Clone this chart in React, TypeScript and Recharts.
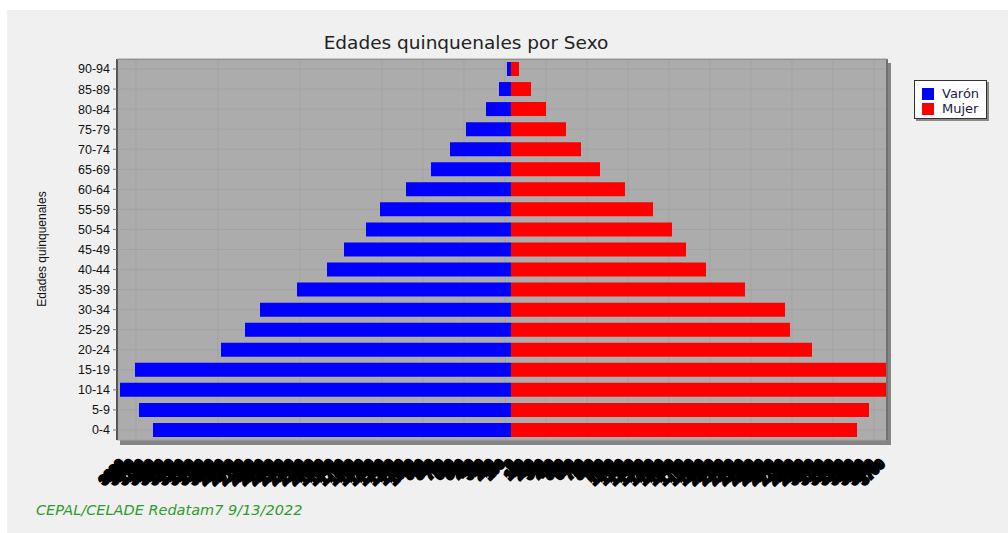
import { BarChart, Bar, XAxis, YAxis, CartesianGrid, Legend } from "recharts";

// grupos de edad, de menor a mayor (el eje Y va invertido)
const AGE_GROUPS = [
  "0-4", "5-9", "10-14", "15-19", "20-24", "25-29", "30-34", "35-39", "40-44", "45-49",
  "50-54", "55-59", "60-64", "65-69", "70-74", "75-79", "80-84", "85-89", "90-94",
];
const VARON = [3580, 3720, 3910, 3760, 2900, 2660, 2510, 2140, 1840, 1670, 1450, 1310, 1050, 800, 610, 450, 250, 120, 40];
const MUJER = [3460, 3580, 3800, 3790, 3010, 2790, 2740, 2340, 1950, 1750, 1610, 1420, 1140, 890, 700, 550, 350, 200, 80];

const X_DOMAIN = [-3940, 3760];
const GRID_TICKS = [-3750, -3340, -2930, -2520, -2110, -1700, -1290, -880, -470, -60, 350, 760, 1170, 1580, 1990, 2400, 2810, 3220, 3630];
// etiquetas del eje X: en el original se pisan unas con otras
const X_TICKS = [
  -3900, -3800, -3700, -3600, -3500, -3400, -3300, -3200, -3100, -3000, -2900, -2800, -2700, -2600,
  -2500, -2400, -2300, -2200, -2100, -2000, -1900, -1800, -1700, -1600, -1500, -1400, -1300, -1200,
  -1100, -1000, -900, -800, -700, -600, -500, -400, -300, -200, -100, 0, 100, 200, 300, 400, 500,
  600, 700, 800, 900, 1000, 1100, 1200, 1300, 1400, 1500, 1600, 1700, 1800, 1900, 2000, 2100, 2200,
  2300, 2400, 2500, 2600, 2700, 2800, 2900, 3000, 3100, 3200, 3300, 3400, 3500, 3600, 3700,
];

const SERIES = [
  { key: "varon", label: "Varón", color: "#0000ff" },
  { key: "mujer", label: "Mujer", color: "#ff0000" },
];

const data = AGE_GROUPS.map((age, i) => ({ age, varon: -VARON[i], mujer: MUJER[i] }));

const formatNum = (v: number) => Math.abs(v).toLocaleString("es");

function BlobTick({ x, y, payload }: any) {
  const ty = y + 17;
  return (
    <text
      x={x + 4}
      y={ty}
      transform={`rotate(-45 ${x + 4} ${ty})`}
      textAnchor="end"
      fontSize={13}
      fontWeight="bold"
      fontFamily="Liberation Sans, Arial, sans-serif"
      fill="#000"
      stroke="#000"
      strokeWidth={3}
    >
      {formatNum(payload.value)}
    </text>
  );
}

function BoxLegend() {
  return (
    <div
      style={{
        width: 73,
        height: 39,
        boxSizing: "border-box",
        background: "#fff",
        border: "1px solid #333",
        boxShadow: "2px 2px 0 #8a8a8a",
        padding: "5px 0 0 7px",
        fontFamily: "DejaVu Sans, Verdana, sans-serif",
        fontSize: 13,
        color: "#1a1a40",
        lineHeight: "15px",
        textAlign: "left",
      }}
    >
      {SERIES.map((s) => (
        <div key={s.key} style={{ display: "flex", alignItems: "center", gap: 8 }}>
          <span style={{ width: 12, height: 12, background: s.color, display: "inline-block" }} />
          <span>{s.label}</span>
        </div>
      ))}
    </div>
  );
}

export default function App() {
  return (
    <div
      style={{
        position: "fixed",
        left: 7,
        top: 10,
        width: 1001,
        height: 523,
        background: "#f0f0f0",
        fontFamily: "DejaVu Sans, Verdana, sans-serif",
      }}
    >
      {/* sombra del area de grafico */}
      <div style={{ position: "absolute", left: 113, top: 53, width: 771, height: 382, background: "#858585" }} />
      <div
        style={{
          position: "absolute",
          top: 22,
          left: 0,
          width: 918,
          textAlign: "center",
          fontSize: 18.5,
          lineHeight: "22px",
          color: "#222",
        }}
      >
        Edades quinquenales por Sexo
      </div>
      <BarChart
        width={1001}
        height={523}
        data={data}
        layout="vertical"
        stackOffset="sign"
        barCategoryGap={3}
        margin={{ top: 49, right: 48, bottom: 33, left: 0 }}
        style={{ position: "absolute", left: 0, top: 0 }}
      >
        <CartesianGrid xAxisId="grid" fill="#acacac" stroke="#a3a3a3" />
        <XAxis xAxisId="grid" type="number" domain={X_DOMAIN} ticks={GRID_TICKS} allowDataOverflow hide />
        <XAxis
          type="number"
          domain={X_DOMAIN}
          ticks={X_TICKS}
          allowDataOverflow
          interval={0}
          height={60}
          axisLine={false}
          tickLine={false}
          tick={<BlobTick />}
        />
        <YAxis
          type="category"
          dataKey="age"
          reversed
          width={110}
          interval={0}
          tickSize={4}
          tickMargin={3}
          axisLine={{ stroke: "#555", strokeWidth: 2 }}
          tickLine={{ stroke: "#777" }}
          tick={{ fontSize: 12.5, fill: "#111", fontFamily: "Liberation Sans, Arial, sans-serif" }}
        />
        <Legend
          layout="horizontal"
          verticalAlign="middle"
          align="right"
          content={<BoxLegend />}
          wrapperStyle={{ position: "absolute", left: 907, top: 70, width: 73, height: 39 }}
        />
        {SERIES.map((s) => (
          <Bar
            key={s.key}
            dataKey={s.key}
            name={s.label}
            stackId="pop"
            fill={s.color}
            isAnimationActive={false}
          />
        ))}
      </BarChart>
      {/* marco superior y derecho */}
      <div
        style={{
          position: "absolute",
          left: 110,
          top: 49,
          width: 771,
          height: 381,
          boxSizing: "border-box",
          borderTop: "1px solid #8f8f8f",
          borderRight: "2px solid #707070",
          pointerEvents: "none",
        }}
      />
      <div
        style={{
          position: "absolute",
          left: 35,
          top: 239,
          transform: "translate(-50%, -50%) rotate(-90deg)",
          whiteSpace: "nowrap",
          fontFamily: "Liberation Sans, Arial, sans-serif",
          fontSize: 12,
          color: "#111",
        }}
      >
        Edades quinquenales
      </div>
      <div
        style={{
          position: "absolute",
          left: 29,
          top: 491,
          fontSize: 14.5,
          lineHeight: "18px",
          fontStyle: "italic",
          color: "#2f9a2f",
        }}
      >
        CEPAL/CELADE Redatam7 9/13/2022
      </div>
    </div>
  );
}
